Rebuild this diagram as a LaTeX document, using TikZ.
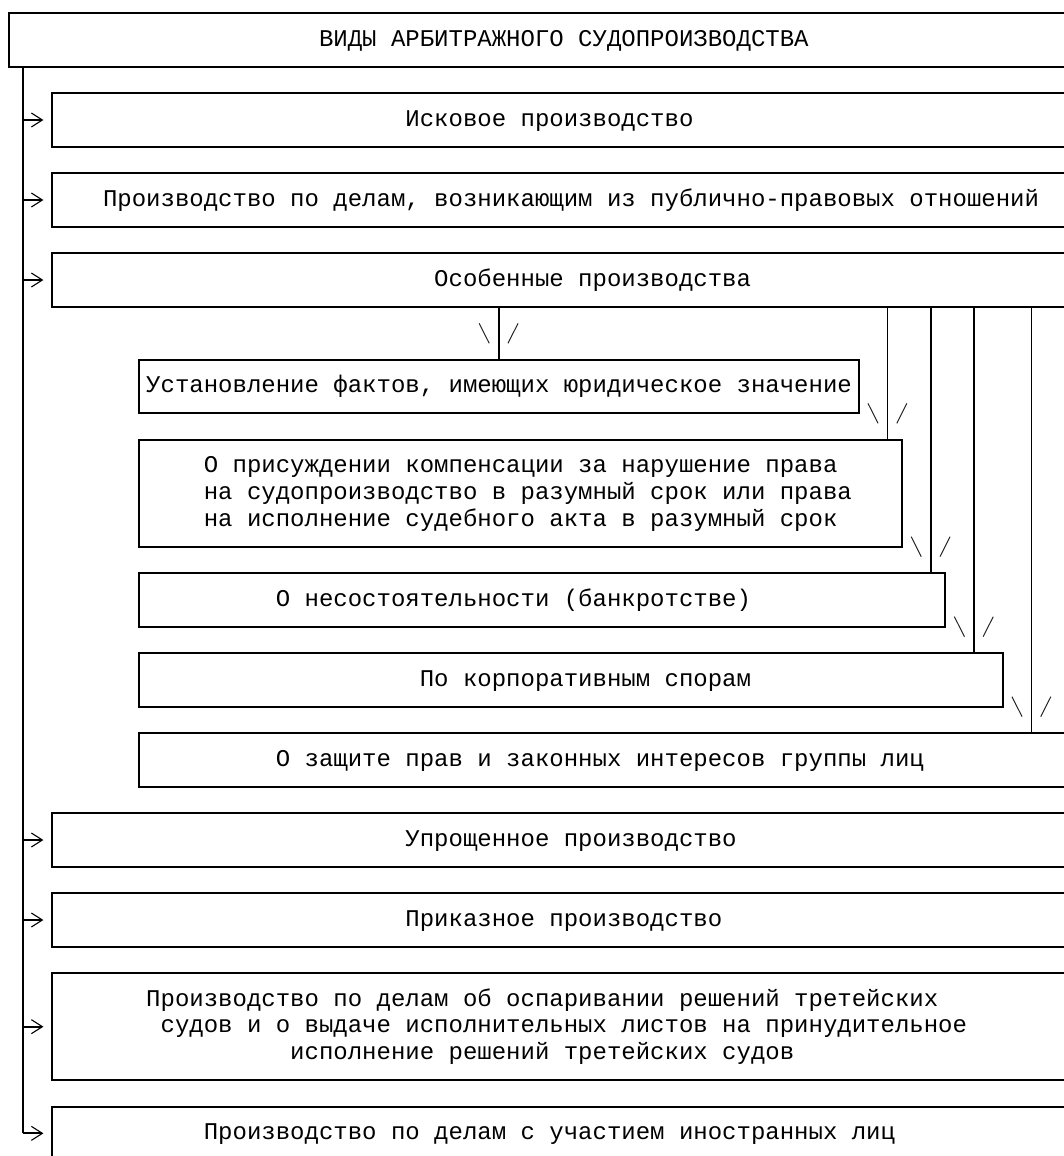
\documentclass[tikz,border=0pt]{standalone}
\usepackage{fontspec}
\newfontfamily\mono{Liberation Mono}
\usetikzlibrary{arrows.meta}

\tikzset{
  box/.style={draw, line width=0.9pt, inner sep=0pt, outer sep=0pt, anchor=north west},
  lbl/.style={font=\mono\fontsize{12pt}{13.333pt}\selectfont, inner sep=0pt, anchor=base west, align=left},
  feed/.style={line width=0.9pt},
  branch/.style={line width=0.9pt, -{Straight Barb[length=5.5pt,width=7pt,line width=0.55pt]}, shorten >=4.4pt},
  tipmark/.style={line width=0.5pt, black!85}
}

\begin{document}
\begin{tikzpicture}[x=7.2pt, y=-13.3333pt]
\useasboundingbox (-0.625,-0.5) rectangle (73.264,42.85);

% Title
\node[box, minimum width=76*7.2pt, minimum height=2*13.3333pt] (title) at (0,0) {};
\node[lbl] (title-t) at (21.5,1.225) {ВИДЫ АРБИТРАЖНОГО СУДОПРОИЗВОДСТВА};

% Main kinds
\node[box, minimum width=73*7.2pt, minimum height=2*13.3333pt] (isk) at (3,3) {};
\node[lbl] (isk-t) at (27.5,4.225) {Исковое производство};
\node[box, minimum width=73*7.2pt, minimum height=2*13.3333pt] (pub) at (3,6) {};
\node[lbl] (pub-t) at (6.5,7.225) {Производство по делам, возникающим из публично-правовых отношений};
\node[box, minimum width=73*7.2pt, minimum height=2*13.3333pt] (osob) at (3,9) {};
\node[lbl] (osob-t) at (29.5,10.225) {Особенные производства};

% Special proceedings
\node[box, minimum width=50*7.2pt, minimum height=2*13.3333pt] (ust) at (9,13) {};
\node[lbl] (ust-t) at (9.5,14.225) {Установление фактов, имеющих юридическое значение};
\node[box, minimum width=53*7.2pt, minimum height=4*13.3333pt] (comp) at (9,16) {};
\node[lbl] (comp-t) at (13.5,19.225) {О присуждении компенсации за нарушение права\\на судопроизводство в разумный срок или права\\на исполнение судебного акта в разумный срок};
\node[box, minimum width=56*7.2pt, minimum height=2*13.3333pt] (bankr) at (9,21) {};
\node[lbl] (bankr-t) at (18.5,22.225) {О несостоятельности (банкротстве)};
\node[box, minimum width=60*7.2pt, minimum height=2*13.3333pt] (corp) at (9,24) {};
\node[lbl] (corp-t) at (28.5,25.225) {По корпоративным спорам};
\node[box, minimum width=67*7.2pt, minimum height=2*13.3333pt] (group) at (9,27) {};
\node[lbl] (group-t) at (18.5,28.225) {О защите прав и законных интересов группы лиц};

% Other kinds
\node[box, minimum width=73*7.2pt, minimum height=2*13.3333pt] (simp) at (3,30) {};
\node[lbl] (simp-t) at (27.5,31.225) {Упрощенное производство};
\node[box, minimum width=73*7.2pt, minimum height=2*13.3333pt] (order) at (3,33) {};
\node[lbl] (order-t) at (27.5,34.225) {Приказное производство};
\node[box, minimum width=73*7.2pt, minimum height=4*13.3333pt] (arb) at (3,36) {};
\node[lbl] (arb-t) at (9.5,39.225) {Производство по делам об оспаривании решений третейских\\\hspace*{7.2pt}судов и о выдаче исполнительных листов на принудительное\\\hspace*{72pt}исполнение решений третейских судов};
\node[box, minimum width=73*7.2pt, minimum height=2*13.3333pt] (foreign) at (3,41) {};
\node[lbl] (foreign-t) at (13.5,42.225) {Производство по делам с участием иностранных лиц};

% Trunk and branches
\coordinate (trunk) at (1,0);
\draw[feed] (title.south -| trunk) -- (foreign.west -| trunk);
\foreach \b in {isk, pub, osob, simp, order, arb, foreign}
  \draw[branch] (\b.west -| trunk) -- (\b.west);

% Feeds from special proceedings
\foreach \c/\dst/\r in {34/ust/12, 61/comp/15, 64/bankr/20, 67/corp/23, 71/group/26} {
  \coordinate (col) at (\c,0);
  \draw[feed] (osob.south -| col) -- (\dst.north -| col);
  \draw[tipmark] (\c-1.35,\r-0.375) -- ++(0.7,0.75);
  \draw[tipmark] (\c+0.65,\r+0.375) -- ++(0.7,-0.75);
}
\end{tikzpicture}
\end{document}
